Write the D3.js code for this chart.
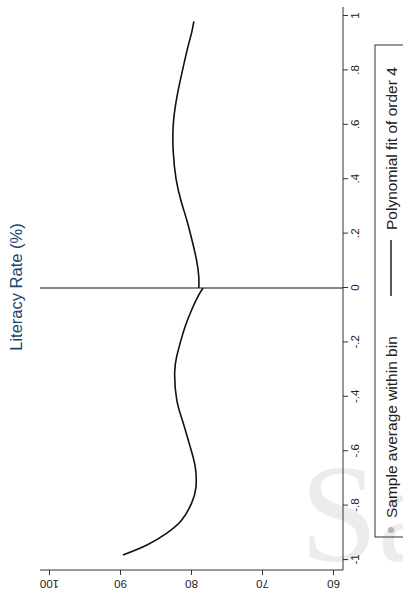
<!DOCTYPE html>
<html>
<head>
<meta charset="utf-8">
<script src="https://cdn.jsdelivr.net/npm/d3@7"></script>
<style>
body { margin: 0; background: #fff; }
svg { display: block; font-family: "Liberation Sans", Arial, sans-serif; }
</style>
</head>
<body>
<div id="chart"></div>
<script>
// fitted values, left and right of the cutoff
var leftX = [-0.982, -0.945, -0.901, -0.853, -0.79, -0.732, -0.658, -0.585, -0.496, -0.412, -0.31, -0.25, -0.2, -0.14, -0.08, -0.03, 0];
var leftY = [89.6, 86.2, 83.4, 81.3, 79.9, 79.3, 79.4, 80.1, 81.1, 82.0, 82.3, 82.0, 81.5, 80.8, 79.9, 79.0, 78.3];
var rightX = [0, 0.04, 0.1, 0.18, 0.25, 0.32, 0.4, 0.5, 0.6, 0.7, 0.8, 0.89, 0.94, 0.98];
var rightY = [78.9, 78.9, 79.2, 79.9, 80.6, 81.4, 82.1, 82.5, 82.5, 82.0, 81.2, 80.4, 79.9, 79.6];
var xTicks = [-1, -0.8, -0.6, -0.4, -0.2, 0, 0.2, 0.4, 0.6, 0.8, 1];
var yTicks = [60, 70, 80, 90, 100];
var legendLabels = ["Sample average within bin", "Polynomial fit of order 4"];
var title = "Literacy Rate (%)";

var pageW = 403, pageH = 596;

var svg = d3.select("#chart").append("svg")
  .attr("width", pageW)
  .attr("height", pageH);

// faint watermark behind everything
svg.append("text")
  .attr("x", 300)
  .attr("y", 561)
  .attr("font-family", "'Liberation Serif', 'DejaVu Serif', serif")
  .attr("font-size", 140)
  .attr("fill", "#ececec")
  .text("Sa");

// the whole chart is drawn upright and then turned a quarter left
var g = svg.append("g")
  .attr("transform", "translate(0," + pageH + ") rotate(-90)");

var x = d3.scaleLinear().domain([-1, 1]).range([36, 580]);
var y = d3.scaleLinear().domain([60, 100]).range([333, 49]);

var axisY = 343, axisX = 26;

// x axis
var xAxis = d3.axisBottom(x)
  .tickValues(xTicks)
  .tickSize(5)
  .tickSizeOuter(0)
  .tickFormat(function (d) { return String(d).replace("0.", "."); });

var gx = g.append("g")
  .attr("transform", "translate(0," + axisY + ")")
  .call(xAxis);
gx.select(".domain").remove();
gx.selectAll("line").attr("stroke", "#333");
gx.selectAll("text").attr("font-size", 11.5).attr("fill", "#222");

g.append("line")
  .attr("x1", axisX).attr("x2", x(1) + 9)
  .attr("y1", axisY).attr("y2", axisY)
  .attr("stroke", "#333");

// y axis, labels turned like Stata does
var yAxis = d3.axisLeft(y)
  .tickValues(yTicks)
  .tickSize(5)
  .tickSizeOuter(0);

var gy = g.append("g")
  .attr("transform", "translate(" + axisX + ",0)")
  .call(yAxis);
gy.select(".domain").remove();
gy.selectAll("line").attr("stroke", "#333");
gy.selectAll("text")
  .attr("font-size", 11.5)
  .attr("fill", "#222")
  .attr("transform", "rotate(-90)")
  .attr("x", 0)
  .attr("y", -10)
  .attr("dy", 0)
  .attr("text-anchor", "middle");

g.append("line")
  .attr("x1", axisX).attr("x2", axisX)
  .attr("y1", y(100) - 9).attr("y2", axisY)
  .attr("stroke", "#333");

// cutoff line
g.append("line")
  .attr("x1", x(0)).attr("x2", x(0))
  .attr("y1", y(100) - 9).attr("y2", axisY)
  .attr("stroke", "#111")
  .attr("stroke-width", 1.2);

// polynomial fits
var line = d3.line()
  .x(function (d) { return x(d[0]); })
  .y(function (d) { return y(d[1]); })
  .curve(d3.curveNatural);

[[leftX, leftY], [rightX, rightY]].forEach(function (s) {
  var pts = s[0].map(function (v, i) { return [v, s[1][i]]; });
  g.append("path")
    .attr("d", line(pts))
    .attr("fill", "none")
    .attr("stroke", "#111")
    .attr("stroke-width", 1.6);
});

// title
g.append("text")
  .attr("x", 309)
  .attr("y", 22)
  .attr("text-anchor", "middle")
  .attr("font-size", 16.5)
  .attr("fill", "#1a476f")
  .text(title);

// legend
g.append("rect")
  .attr("x", 59).attr("y", 375)
  .attr("width", 492).attr("height", 50)
  .attr("fill", "none")
  .attr("stroke", "#333");

g.append("circle")
  .attr("cx", 66).attr("cy", 391)
  .attr("r", 3)
  .attr("fill", "#b5b5b5");

g.append("text")
  .attr("x", 78).attr("y", 397)
  .attr("font-size", 15.5)
  .attr("fill", "#222")
  .text(legendLabels[0]);

g.append("line")
  .attr("x1", 300).attr("x2", 356)
  .attr("y1", 391).attr("y2", 391)
  .attr("stroke", "#111")
  .attr("stroke-width", 1.4);

g.append("text")
  .attr("x", 366).attr("y", 397)
  .attr("font-size", 15.5)
  .attr("fill", "#222")
  .text(legendLabels[1]);
</script>
</body>
</html>
